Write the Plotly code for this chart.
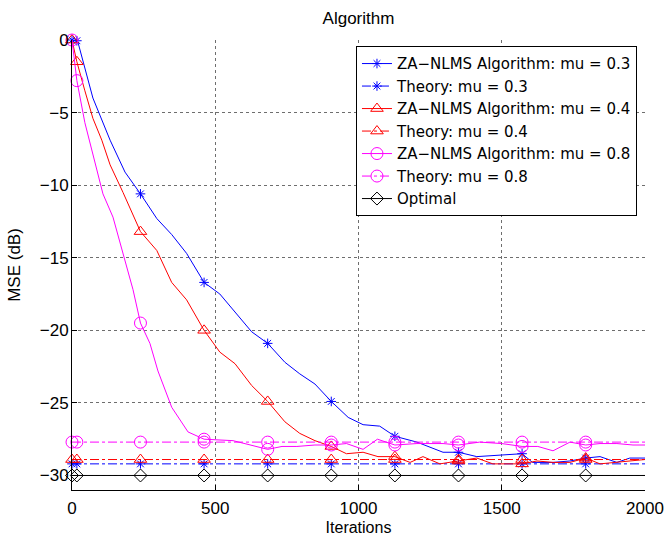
import plotly.graph_objects as go

# ---------------- data ----------------
marker_x = [0, 17, 239, 461, 683, 905, 1127, 1349, 1571, 1793]

x_mu03 = [0, 17, 20, 73, 133, 185, 239, 296, 348, 400, 461, 516, 563, 627, 683, 743, 795, 848, 905,
          964, 1016, 1074, 1127, 1204, 1295, 1349, 1413, 1500, 1571, 1607, 1679, 1738, 1793, 1843,
          1902, 1947, 2000]
y_mu03 = [0, -0.05, -0.1, -4.0, -6.9, -9.1, -10.6, -12.3, -13.4, -14.7, -16.7, -17.5, -18.6, -20.1,
          -20.9, -22.2, -23.0, -23.7, -24.9, -26.0, -26.5, -26.6, -27.3, -27.7, -28.4, -28.4, -28.7,
          -28.6, -28.5, -29.1, -29.1, -29.0, -28.8, -28.7, -29.1, -28.8, -28.8]

x_mu04 = [0, 17, 45, 73, 104, 133, 178, 209, 239, 296, 348, 400, 461, 516, 569, 627, 683, 743, 795,
          848, 905, 958, 1016, 1068, 1127, 1180, 1225, 1284, 1349, 1413, 1469, 1571, 1623, 1679, 1738,
          1793, 1843, 1902, 2000]
y_mu04 = [0, -1.5, -3.5, -5.4, -6.9, -8.6, -10.5, -11.9, -13.2, -14.5, -16.7, -17.9, -20.0, -21.5,
          -22.3, -23.8, -24.9, -26.3, -27.1, -27.6, -28.0, -28.5, -28.4, -28.7, -28.7, -29.1, -28.7,
          -29.2, -29.0, -28.8, -29.2, -29.2, -29.0, -29.1, -29.1, -28.8, -29.2, -29.1, -28.9]

x_mu08 = [0, 17, 45, 80, 108, 143, 185, 213, 239, 272, 300, 348, 405, 461, 562, 628, 683, 733, 785,
          848, 905, 958, 1016, 1066, 1127, 1204, 1295, 1349, 1423, 1500, 1571, 1626, 1679, 1738,
          1793, 1843, 1902, 1958, 2000]
y_mu08 = [0, -2.8, -5.7, -8.5, -10.6, -12.2, -15.1, -17.2, -19.5, -20.9, -22.8, -25.3, -27.0, -27.5,
          -27.6, -27.9, -28.2, -28.0, -28.0, -27.9, -27.9, -27.8, -28.2, -27.5, -27.9, -27.8, -27.8,
          -27.9, -27.7, -27.8, -28.0, -28.0, -28.3, -27.7, -27.9, -27.8, -27.8, -27.9, -27.9]

x_theory = marker_x + [2000]
theory_mu03 = -29.2
theory_mu04 = -28.9
theory_mu08 = -27.7
optimal = -30.0

labels = ["ZA−NLMS Algorithm: mu = 0.3", "Theory: mu = 0.3",
          "ZA−NLMS Algorithm: mu = 0.4", "Theory: mu = 0.4",
          "ZA−NLMS Algorithm: mu = 0.8", "Theory: mu = 0.8",
          "Optimal"]

x_ticks = [0, 500, 1000, 1500, 2000]
y_ticks = [0, -5, -10, -15, -20, -25, -30]

# ---------------- figure ----------------
FONT = "Liberation Sans, Arial, Helvetica, sans-serif"
LFONT = "DejaVu Sans, Liberation Sans, sans-serif"
BLUE, RED, MAG, BLK = "rgb(0,0,255)", "rgb(255,0,0)", "rgb(255,0,255)", "rgb(0,0,0)"

fig = go.Figure()


def pick(xs, ys, xm):
    d = dict(zip(xs, ys))
    return [d[v] for v in xm]


series = [
    (x_mu03, y_mu03, BLUE, "solid", "asterisk-open", 8, labels[0]),
    (x_theory, [theory_mu03] * len(x_theory), BLUE, "dashdot", "asterisk-open", 8, labels[1]),
    (x_mu04, y_mu04, RED, "solid", "triangle-up-open", 11, labels[2]),
    (x_theory, [theory_mu04] * len(x_theory), RED, "dashdot", "triangle-up-open", 11, labels[3]),
    (x_mu08, y_mu08, MAG, "solid", "circle-open", 12, labels[4]),
    (x_theory, [theory_mu08] * len(x_theory), MAG, "dashdot", "circle-open", 12, labels[5]),
    (x_theory, [optimal] * len(x_theory), BLK, "solid", "diamond-open", 10, labels[6]),
]

for xs, ys, col, dash, sym, sz, name in series:
    fig.add_trace(go.Scatter(x=xs, y=ys, mode="lines", line=dict(color=col, width=1, dash=dash),
                             showlegend=False, hoverinfo="skip"))
    fig.add_trace(go.Scatter(x=marker_x, y=pick(xs, ys, marker_x), mode="markers",
                             marker=dict(symbol=sym, size=sz, color=col, line=dict(color=col, width=1)),
                             showlegend=False, cliponaxis=False, hoverinfo="skip"))
    fig.add_trace(go.Scatter(x=[None], y=[None], mode="lines+markers", name=name,
                             line=dict(color=col, width=1, dash=dash),
                             marker=dict(symbol=sym, size=sz, color=col, line=dict(color=col, width=1))))

fig.update_layout(
    width=666, height=536,
    margin=dict(l=72, r=21, t=40, b=46),
    paper_bgcolor="white", plot_bgcolor="white",
    font=dict(family=FONT, size=17, color="black"),
    title=dict(text="Algorithm", x=(72 + 645) / 2 / 666, xanchor="center",
               y=1 - 18 / 536, yanchor="middle", yref="container",
               font=dict(family=FONT, size=17, color="black")),
    legend=dict(x=0.986, y=0.986, xanchor="right", yanchor="top",
                bgcolor="white", bordercolor="black", borderwidth=1,
                font=dict(family=LFONT, size=15, color="black"),
                tracegroupgap=0),
    showlegend=True,
)

fig.update_xaxes(range=[0, 2000], tickvals=x_ticks, ticks="inside", ticklen=5, tickcolor="black",
                 showline=True, linecolor="black", linewidth=1, mirror=False, automargin=False,
                 showgrid=True, gridcolor="rgb(110,110,110)", griddash="dot", gridwidth=1,
                 zeroline=False, tickfont=dict(family=FONT, size=17, color="black"),
                 ticklabelstandoff=3,
                 title=dict(text="Iterations", font=dict(family=FONT, size=16, color="black"), standoff=5))
fig.update_yaxes(range=[-31, 0], tickvals=y_ticks, ticks="inside", ticklen=5, tickcolor="black",
                 showline=True, linecolor="black", linewidth=1, mirror=False, automargin=False,
                 showgrid=True, gridcolor="rgb(110,110,110)", griddash="dot", gridwidth=1,
                 zeroline=False, tickfont=dict(family=FONT, size=17, color="black"),
                 ticklabelstandoff=-1,
                 title=dict(text="MSE (dB)", font=dict(family=FONT, size=17, color="black"), standoff=14))

fig.write_html("out.html")
